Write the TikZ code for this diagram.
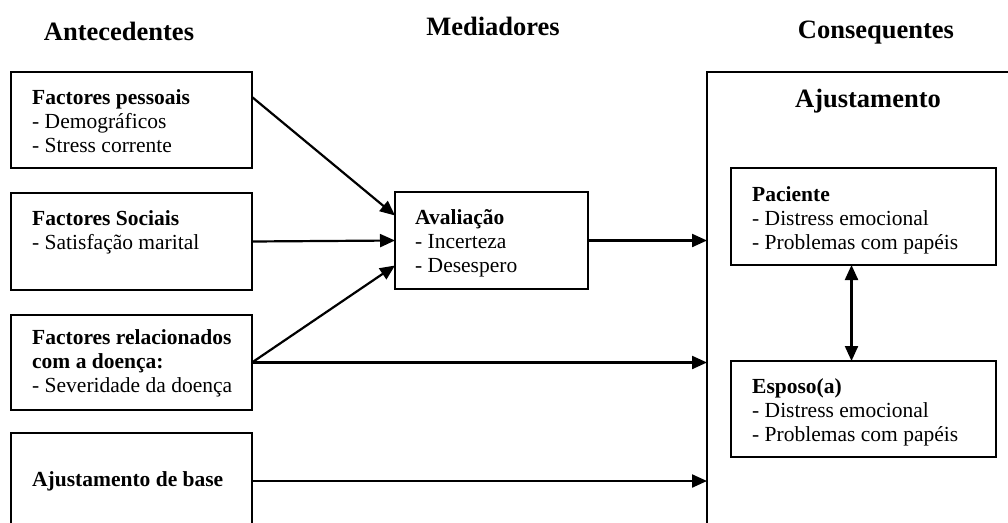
\documentclass[tikz,border=0pt]{standalone}
\usepackage{fontspec}
\setmainfont{Liberation Serif}
\usetikzlibrary{arrows.meta}
\tikzset{
  box/.style n args={2}{draw, line width=1.5pt, anchor=north west, inner sep=0pt, outer sep=0pt, minimum width=#1pt, minimum height=#2pt},
  txt/.style={anchor=north west, inner sep=0pt, align=left, font=\fontsize{21.5}{24}\selectfont},
  hdr/.style={inner sep=0pt, anchor=base, font=\fontsize{26.5}{30}\selectfont\bfseries},
  arr/.style={-{Triangle[length=15pt,width=13pt]}, line width=2.2pt},
}
\begin{document}
\begin{tikzpicture}[x=1pt,y=-1pt]
  \useasboundingbox (0,0) rectangle (1008,522);
  \clip (0,0) rectangle (1008,522);
  % headings
  \node[hdr] (antec) at (119,40) {Antecedentes};
  \node[hdr] (media) at (493,35) {Mediadores};
  \node[hdr] (conseq) at (876,38) {Consequentes};

  % antecedentes
  \node[box={241}{96}] (pess) at (11,72) {};
  \node[box={241}{97}] (soc) at (11,193) {};
  \node[box={241}{95}] (doenca) at (11,315) {};
  \node[box={241}{96}] (base) at (11,433) {};
  \node[txt] (pesstxt) at ([xshift=21pt,yshift=-17pt]pess.north west)
    {\textbf{Factores pessoais}\\- Demográficos\\- Stress corrente};
  \node[txt] (soctxt) at ([xshift=21pt,yshift=-17pt]soc.north west)
    {\textbf{Factores Sociais}\\- Satisfação marital};
  \node[txt] (doencatxt) at ([xshift=21pt,yshift=-14pt]doenca.north west)
    {\textbf{Factores relacionados}\\\textbf{com a doença:}\\- Severidade da doença};
  \node[txt, anchor=west] (basetxt) at ([xshift=21pt]base.west)
    {\textbf{Ajustamento de base}};

  % mediadores
  \node[box={193}{97}] (aval) at (395,192) {};
  \node[txt] (avaltxt) at ([xshift=20pt,yshift=-17pt]aval.north west)
    {\textbf{Avaliação}\\- Incerteza\\- Desespero};

  % consequentes
  \node[box={320}{470}, line width=1.8pt] (ajust) at (707,72) {};
  \node[hdr, anchor=center] (ajusttit) at (868,101) {Ajustamento};
  \node[box={265}{97}] (pac) at (731,168) {};
  \node[box={265}{96}] (esp) at (731,361) {};
  \node[txt] (pactxt) at ([xshift=21pt,yshift=-18pt]pac.north west)
    {\textbf{Paciente}\\- Distress emocional\\- Problemas com papéis};
  \node[txt] (esptxt) at ([xshift=21pt,yshift=-17pt]esp.north west)
    {\textbf{Esposo(a)}\\- Distress emocional\\- Problemas com papéis};

  % arrows
  \draw[arr] ([yshift=-25pt]pess.north east) -- ([yshift=25pt]aval.west);
  \draw[arr] (soc.east) -- (aval.west);
  \draw[arr] (doenca.east) -- ([yshift=-25pt]aval.west);
  \draw[arr] (doenca.east) -- (doenca.east -| ajust.west);
  \draw[arr] (aval.east) -- (aval.east -| ajust.west);
  \draw[arr] (base.east) -- (base.east -| ajust.west);
  \draw[arr, {Triangle[length=15pt,width=13pt]}-{Triangle[length=15pt,width=13pt]}]
    ([xshift=-12pt]pac.south) -- ([xshift=-12pt]esp.north);
\end{tikzpicture}
\end{document}
